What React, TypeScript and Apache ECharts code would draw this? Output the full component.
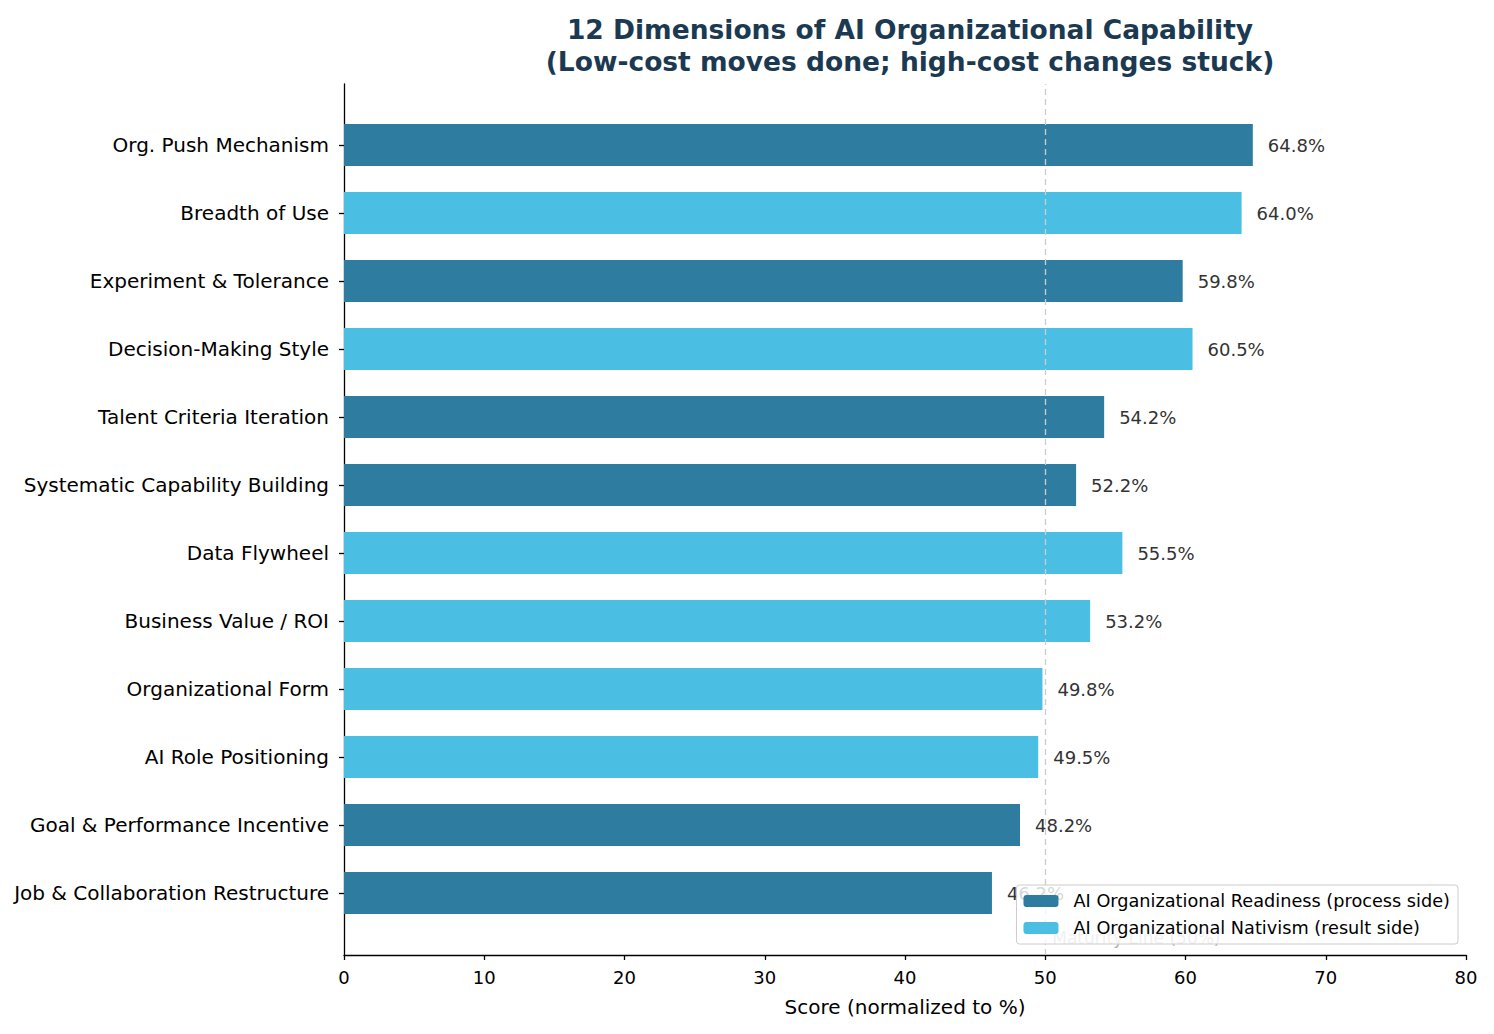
import * as echarts from 'echarts';
import { useEffect, useRef } from 'react';

const categories = [
  'Org. Push Mechanism',
  'Breadth of Use',
  'Experiment & Tolerance',
  'Decision-Making Style',
  'Talent Criteria Iteration',
  'Systematic Capability Building',
  'Data Flywheel',
  'Business Value / ROI',
  'Organizational Form',
  'AI Role Positioning',
  'Goal & Performance Incentive',
  'Job & Collaboration Restructure',
];
const scores = [64.8, 64.0, 59.8, 60.5, 54.2, 52.2, 55.5, 53.2, 49.8, 49.5, 48.2, 46.2];
// 'R' = readiness (process side), 'N' = nativism (result side)
const groups = ['R', 'N', 'R', 'N', 'R', 'R', 'N', 'N', 'N', 'N', 'R', 'R'];
const xTicks = [0, 80, 10];
const maturity = 50;

const FONT = 'DejaVu Sans';
const DARK = '#2E7DA1';
const LIGHT = '#4ABEE3';

const App = () => {
  const chartRef = useRef<HTMLDivElement>(null);

  useEffect(() => {
    if (!chartRef.current) return;
    const chart = echarts.init(chartRef.current, undefined, { renderer: 'svg' });

    const readiness = scores.map((v, i) => (groups[i] === 'R' ? v : '-'));
    const nativism = scores.map((v, i) => (groups[i] === 'N' ? v : '-'));
    const label = {
      show: true,
      position: 'right',
      distance: 15,
      formatter: (p: any) => `${Number(p.value).toFixed(1)}%`,
      color: '#333',
      fontSize: 18,
      fontFamily: FONT,
    };

    chart.setOption({
      animation: false,
      textStyle: { fontFamily: FONT },
      title: {
        text: '12 Dimensions of AI Organizational Capability\n(Low-cost moves done; high-cost changes stuck)',
        left: 905,
        textAlign: 'center',
        top: 8,
        textStyle: {
          fontSize: 26.5,
          fontWeight: 'bold',
          color: '#1B3A52',
          lineHeight: 32,
          fontFamily: FONT,
        },
      },
      legend: {
        orient: 'vertical',
        right: 36,
        bottom: 90,
        z: 20,
        itemWidth: 35,
        itemHeight: 12,
        itemGap: 9,
        padding: [7, 8, 7, 7],
        backgroundColor: 'rgba(255,255,255,0.8)',
        borderColor: '#cccccc',
        borderWidth: 1,
        borderRadius: 3,
        textStyle: { fontSize: 17.7, color: '#000', fontFamily: FONT, padding: [0, 0, 0, 10] },
        data: [
          'AI Organizational Readiness (process side)',
          'AI Organizational Nativism (result side)',
        ],
      },
      grid: [
        { left: 344, right: 28, top: 84, bottom: 79 },
        { left: 344, right: 28, top: 111, bottom: 107 },
      ],
      xAxis: [
        {
          gridIndex: 0,
          type: 'value',
          min: xTicks[0],
          max: xTicks[1],
          interval: xTicks[2],
          name: 'Score (normalized to %)',
          nameLocation: 'middle',
          nameGap: 42,
          nameTextStyle: { fontSize: 20, color: '#000', fontFamily: FONT },
          axisLine: { show: true, lineStyle: { color: '#000', width: 1.3 } },
          axisTick: { show: true, length: 5, lineStyle: { color: '#000', width: 1.3 } },
          axisLabel: { fontSize: 18, color: '#000', margin: 13, fontFamily: FONT },
          splitLine: { show: false },
        },
        {
          gridIndex: 1,
          type: 'value',
          min: xTicks[0],
          max: xTicks[1],
          interval: xTicks[2],
          show: false,
        },
      ],
      yAxis: [
        {
          gridIndex: 0,
          type: 'value',
          min: 0,
          max: 1,
          axisLine: { show: true, lineStyle: { color: '#000', width: 1.3 } },
          axisTick: { show: false },
          axisLabel: { show: false },
          splitLine: { show: false },
        },
        {
          gridIndex: 1,
          type: 'category',
          inverse: true,
          data: categories,
          axisLine: { show: false },
          axisTick: { show: true, alignWithLabel: true, length: 5, lineStyle: { color: '#000', width: 1.3 } },
          axisLabel: { fontSize: 20, color: '#000', margin: 15, fontFamily: FONT },
        },
      ],
      series: [
        {
          type: 'line',
          xAxisIndex: 0,
          yAxisIndex: 0,
          data: [],
          silent: true,
          z: 3,
          markLine: {
            symbol: 'none',
            silent: true,
            z: 3,
            lineStyle: { type: [6, 4], color: '#cccccc', width: 1.3 },
            label: {
              show: true,
              position: 'start',
              formatter: 'Maturity Line (50%)',
              color: '#b0b0b0',
              fontSize: 17,
              fontFamily: FONT,
              align: 'left',
              offset: [7, -31],
            },
            data: [{ xAxis: maturity }],
          },
        },
        {
          name: 'AI Organizational Readiness (process side)',
          type: 'bar',
          xAxisIndex: 1,
          yAxisIndex: 1,
          stack: 'all',
          barWidth: 42,
          itemStyle: { color: DARK },
          label,
          data: readiness,
          z: 2,
        },
        {
          name: 'AI Organizational Nativism (result side)',
          type: 'bar',
          xAxisIndex: 1,
          yAxisIndex: 1,
          stack: 'all',
          barWidth: 42,
          itemStyle: { color: LIGHT },
          label,
          data: nativism,
          z: 2,
        },
      ],
    });

    return () => chart.dispose();
  }, []);

  return <div ref={chartRef} style={{ width: 1494, height: 1034, margin: -8 }} />;
};

export default App;
